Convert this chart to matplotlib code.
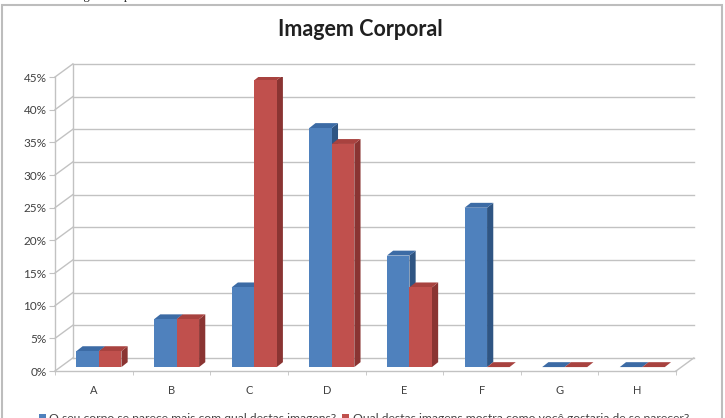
import matplotlib
matplotlib.use('Agg')
import matplotlib.pyplot as plt
from matplotlib.patches import Polygon, Rectangle, Patch

plt.rcParams['font.family'] = ['Lato', 'DejaVu Sans']

categorias = ['A', 'B', 'C', 'D', 'E', 'F', 'G', 'H']
serie_atual = [2.44, 7.32, 12.2, 36.59, 17.07, 24.39, 0, 0]
serie_desejada = [2.44, 7.32, 43.9, 34.15, 12.2, 0, 0, 0]
rotulos = ['O seu corpo se parece mais com qual destas imagens?',
           'Qual destas imagens mostra como você gostaria de se parecer?']
y_ticks = [0, 5, 10, 15, 20, 25, 30, 35, 40, 45]

azul = ('#4F81BD', '#3C6BA5', '#2F5583')
vermelho = ('#C0504D', '#A8423F', '#8A3432')
cinza_grade = '#c2c2c2'
cor_texto = '#404040'

# profundidade da "parede" 3D em unidades de dados
dxw, dyw = 0.23, 2.0
# deslocamento da base das barras e profundidade das barras
dxb, dyb = 0.066, 0.6
ddx, ddy = 0.08, 0.75
larg = 0.29

fig = plt.figure(figsize=(7.25, 4.18), dpi=100)
ax = fig.add_axes([55/725, (418-371)/418, 621/725, 294/418])
ax.set_xlim(0, 8)
ax.set_ylim(0, 45)

# moldura externa
fig.patches.append(Rectangle((2/725, -0.05), 720/725, 1.05 - 5/418,
                             transform=fig.transFigure, fill=False,
                             edgecolor='#bdbdbd', lw=1.5))

# parede do fundo (linhas de grade) e diagonais da parede lateral
for y in y_ticks:
    ax.plot([dxw, 8 + dxw], [y + dyw, y + dyw], color=cinza_grade, lw=1,
            clip_on=False, zorder=1)
    ax.plot([0, dxw], [y, y + dyw], color=cinza_grade, lw=1,
            clip_on=False, zorder=1)
ax.plot([dxw, dxw], [dyw, 45 + dyw], color=cinza_grade, lw=1, clip_on=False, zorder=1)
ax.plot([8, 8 + dxw], [0, dyw], color=cinza_grade, lw=1, clip_on=False, zorder=1)
ax.plot([0, 8], [0, 0], color=cinza_grade, lw=1, clip_on=False, zorder=2)


def barra_3d(x0, valor, cores):
    b = dyb
    t = dyb + valor
    x1 = x0 + larg
    frente = Rectangle((x0, b), larg, valor, facecolor=cores[0], edgecolor='none', zorder=3)
    topo = Polygon([(x0, t), (x1, t), (x1 + ddx, t + ddy), (x0 + ddx, t + ddy)],
                   closed=True, facecolor=cores[1], edgecolor='none', zorder=3)
    lado = Polygon([(x1, b), (x1, t), (x1 + ddx, t + ddy), (x1 + ddx, b + ddy)],
                   closed=True, facecolor=cores[2], edgecolor='none', zorder=3)
    for p in (lado, topo, frente):
        ax.add_patch(p)


for i in range(len(categorias)):
    centro = i + 0.5 + dxb
    barra_3d(centro - larg, serie_atual[i], azul)
    barra_3d(centro, serie_desejada[i], vermelho)

for s in ['top', 'right', 'bottom']:
    ax.spines[s].set_visible(False)
ax.spines['left'].set_color(cinza_grade)
ax.spines['left'].set_linewidth(1)

ax.set_yticks(y_ticks)
ax.set_yticklabels([f'{v}%' for v in y_ticks])
ax.tick_params(axis='y', length=4, color=cinza_grade, labelsize=8.5,
               labelcolor=cor_texto, pad=2)

ax.set_xticks([i + 0.5 for i in range(len(categorias))])
ax.set_xticklabels(categorias)
ax.set_xticks(range(len(categorias) + 1), minor=True)
ax.tick_params(axis='x', which='major', length=0, labelsize=8,
               labelcolor=cor_texto, pad=10)
ax.tick_params(axis='x', which='minor', length=3, color=cinza_grade)

fig.text(360/725, 1 - 30/418, 'Imagem Corporal', ha='center', va='center',
         fontsize=15.5, fontweight='bold', color='#202020')
fig.text(4/725, 1 + 4/418, 'Gráfico 1 – Imagem corporal', ha='left', va='center',
         fontsize=9, family=['Liberation Serif', 'DejaVu Serif'], color='#202020')

handles = [Patch(facecolor=azul[0]), Patch(facecolor=vermelho[0])]
fig.legend(handles, rotulos, loc='center', bbox_to_anchor=(364/725, 1 - 418/418),
           ncol=2, frameon=False, handlelength=0.55, handleheight=0.55,
           handletextpad=0.3, columnspacing=0.5, fontsize=8.7, labelcolor=cor_texto)

fig.savefig('out.png', dpi=100)
